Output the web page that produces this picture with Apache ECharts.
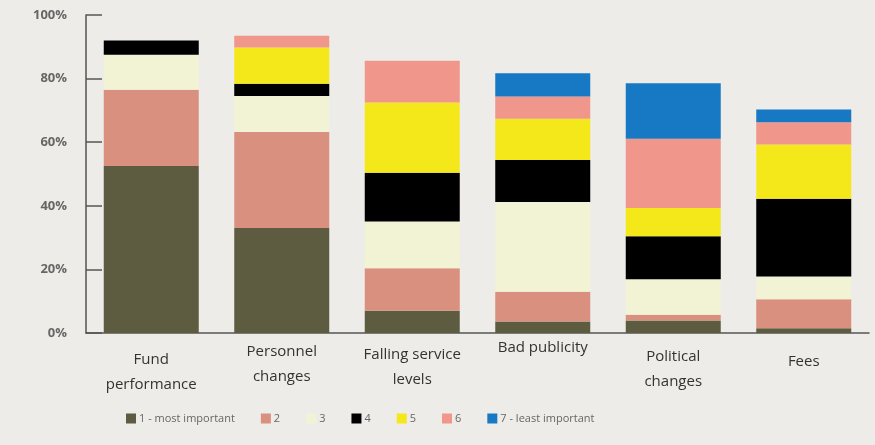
<!DOCTYPE html>
<html><head><meta charset="utf-8">
<script src="https://cdn.jsdelivr.net/npm/echarts@6/dist/echarts.min.js"></script>
<style>html,body{margin:0;padding:0;background:#edece8;}#c{width:875px;height:445px;}</style>
</head><body><div id="c"></div>
<script>
const categories = ['Fund\nperformance','Personnel\nchanges','Falling service\nlevels','Bad publicity','Political\nchanges','Fees'];
const seriesNames = ['1 - most important','2','3','4','5','6','7 - least important'];
const s1 = [52.5, 33.0, 7.0, 3.6, 3.9, 1.5];
const s2 = [24.0, 30.2, 13.4, 9.4, 1.8, 9.1];
const s3 = [11.0, 11.3, 14.7, 28.2, 11.2, 7.2];
const s4 = [4.5, 3.9, 15.3, 13.2, 13.5, 24.4];
const s5 = [0, 11.4, 22.1, 13.0, 8.9, 17.1];
const s6 = [0, 3.7, 13.1, 7.0, 21.8, 7.0];
const s7 = [0, 0, 0, 7.3, 17.4, 4.0];
const yTicks = [0, 20, 40, 60, 80, 100];

const colors = ['#5d5c41','#d9907e','#f2f2d5','#000000','#f5e81a','#f0968a','#1779c4'];
const values = [s1,s2,s3,s4,s5,s6,s7];
const labelPads = [[8,0,0,0],[0,0,0,0],[3,0,0,0],[-4,0,0,0],[5,0,0,0],[10,0,0,0]];

const chart = echarts.init(document.getElementById('c'));
chart.setOption({
  backgroundColor: '#edece8',
  animation: false,
  grid: {left: 86, right: 6, top: 15, bottom: 112},
  legend: {
    left: 121, top: 408, itemWidth: 10, itemHeight: 10, itemGap: 26,
    icon: 'rect',
    textStyle: {fontFamily: 'Open Sans', fontSize: 11, color: '#666', padding: [0,0,0,-2]},
    data: seriesNames
  },
  xAxis: {
    type: 'category',
    data: categories.map((c,i)=>({value:c, textStyle:{padding: labelPads[i]}})),
    axisLine: {lineStyle: {color: '#555', width: 1.5}},
    axisTick: {inside: true, length: 5, lineStyle: {color: '#555'}},
    axisLabel: {fontFamily: 'Open Sans', fontSize: 15, color: '#333', margin: 6, lineHeight: 25, interval: 0}
  },
  yAxis: {
    type: 'value', min: yTicks[0], max: yTicks[yTicks.length-1], interval: 20,
    axisLine: {show: true, lineStyle: {color: '#555', width: 1.5}},
    axisTick: {show: true, inside: true, length: 16, lineStyle: {color: '#555', width: 1.5}},
    splitLine: {show: false},
    axisLabel: {formatter: '{value}%', fontFamily: 'Open Sans', fontSize: 13, fontWeight: 'bold', color: '#666', margin: 19}
  },
  series: values.map((v,i)=>({
    name: seriesNames[i], type: 'bar', stack: 'total', data: v, barWidth: 95,
    itemStyle: {color: colors[i]}
  }))
});
</script></body></html>
